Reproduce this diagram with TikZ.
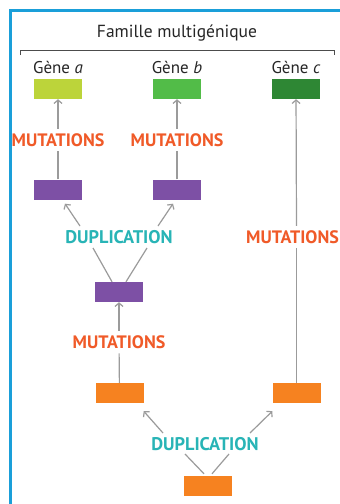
\documentclass[tikz,border=0pt]{standalone}
\usepackage{fontspec}
\setmainfont{PT Sans}
\usetikzlibrary{arrows.meta,calc}
\definecolor{frameblue}{RGB}{26,159,217}
\definecolor{ga}{RGB}{188,212,58}
\definecolor{gb}{RGB}{82,188,72}
\definecolor{gc}{RGB}{46,135,52}
\definecolor{purp}{RGB}{125,80,165}
\definecolor{orng}{RGB}{246,130,32}
\definecolor{mutc}{RGB}{240,90,40}
\definecolor{dupc}{RGB}{40,180,182}
\definecolor{lgray}{RGB}{155,155,155}
\tikzset{
  gbox/.style={rectangle,minimum width=48pt,minimum height=20pt,inner sep=0pt,draw=none},
  mut/.style={text=mutc,font=\fontsize{18}{18}\selectfont\bfseries,inner sep=4.5pt},
  dup/.style={text=dupc,font=\fontsize{18.3}{18}\selectfont\bfseries,inner sep=4.5pt},
  genelbl/.style={font=\fontsize{17}{17}\selectfont,text=black!85,inner sep=0pt},
  ln/.style={draw=lgray,line width=1.2pt},
  arr/.style={ln,-{Straight Barb[length=3.5pt,width=8pt,line width=1.2pt]}},
}
\begin{document}
\begin{tikzpicture}[x=1pt,y=-1pt]
\useasboundingbox (0,0) rectangle (340,504);
\fill[white] (0,0) rectangle (340,504);
% frame
\draw[frameblue,line width=3pt] (10,506) -- (10,10.5) -- (342,10.5);
% title and bracket
\node[font=\fontsize{17.5}{17.5}\selectfont,text=black!85] (title) at (177,33) {Famille multigénique};
\draw[black!70,line width=1pt] (20,55) -- (20,50) -- (334,50) -- (334,55);
% gene labels
\node[genelbl] (la) at (58,67) {Gène \textit{a}};
\node[genelbl] (lb) at (177,67) {Gène \textit{b}};
\node[genelbl] (lc) at (296,67) {Gène \textit{c}};
% boxes
\node[gbox,fill=ga] (ga) at (58,89) {};
\node[gbox,fill=gb] (gb) at (177,89) {};
\node[gbox,fill=gc] (gc) at (296,89) {};
\node[gbox,fill=purp] (pa) at (58,189.5) {};
\node[gbox,fill=purp] (pb) at (177,189.5) {};
\node[gbox,fill=purp] (pm) at (119,292) {};
\node[gbox,fill=orng] (o1) at (119.5,393) {};
\node[gbox,fill=orng] (o2) at (296.5,393) {};
\node[gbox,fill=orng] (o3) at (208,486) {};
% labels
\node[mut] (m1) at (58,140) {MUTATIONS};
\node[mut] (m2) at (177,140) {MUTATIONS};
\node[mut] (m3) at (292.5,237) {MUTATIONS};
\node[mut] (m4) at (119,342) {MUTATIONS};
\node[dup] (d1) at (119,237) {DUPLICATION};
\node[dup] (d2) at (205,444) {DUPLICATION};
% connectors
\draw[ln] (pa) -- (m1);
\draw[arr] (m1) -- (ga);
\draw[ln] (pb) -- (m2);
\draw[arr] (m2) -- (gb);
\draw[ln] (o2) -- (o2 |- m3.south);
\draw[arr] (o2 |- m3.north) -- (gc);
\draw[ln] (o1) -- (m4);
\draw[arr] (m4) -- (pm);
% duplication upper
\draw[ln] ([shift={(-7,0)}]pm.north) -- ([shift={(-26,11)}]d1.center);
\draw[ln] ([shift={(7,0)}]pm.north) -- ([shift={(28,11)}]d1.center);
\draw[arr] ([shift={(-39,-11)}]d1.center) -- ([shift={(7,4)}]pa.south);
\draw[arr] ([shift={(39,-11)}]d1.center) -- ([shift={(-4,4)}]pb.south);
% duplication lower
\draw[ln] ([shift={(-4,-2)}]o3.north) -- ([shift={(-20,10)}]d2.center);
\draw[ln] ([shift={(4,-2)}]o3.north) -- ([shift={(24,10)}]d2.center);
\draw[arr] ([shift={(-42,-11)}]d2.center) -- ([shift={(0,8)}]o1.south east);
\draw[arr] ([shift={(45,-11)}]d2.center) -- ([shift={(0,8)}]o2.south west);
\end{tikzpicture}
\end{document}
